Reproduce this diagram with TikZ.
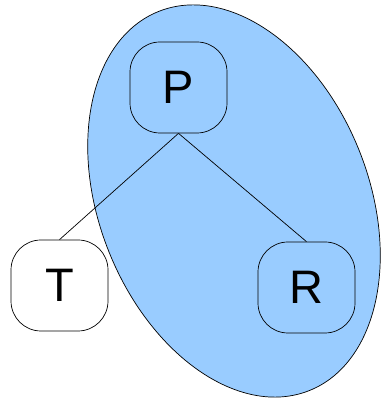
\documentclass[tikz,border=0pt]{standalone}
\usepackage{fontspec}
\setmainfont{Liberation Sans}
\usepackage{tikz}
\definecolor{groupblue}{HTML}{99CCFF}

\begin{document}
\begin{tikzpicture}[x=1pt,y=1pt,
    treenode/.style={draw, rounded corners=30pt, minimum width=97pt,
      minimum height=91pt, inner sep=0pt, line width=0.7pt,
      font=\fontsize{47}{50}\selectfont}]
    \useasboundingbox (0,0) rectangle (380,401);
    % the group around P and R
    \draw[fill=groupblue, line width=0.7pt] (234,200) ellipse [x radius=135pt, y radius=204pt, rotate=21.6];

    \node[treenode] (p) at (178.5,313.5) {P};
    \node[treenode, fill=white] (t) at (59.5,115.5) {T};
    \node[treenode] (r) at (306.5,113.5) {R};

    \draw[line width=0.7pt] (p.south) -- (t.north);
    \draw[line width=0.7pt] (p.south) -- (r.north);
\end{tikzpicture}
\end{document}
